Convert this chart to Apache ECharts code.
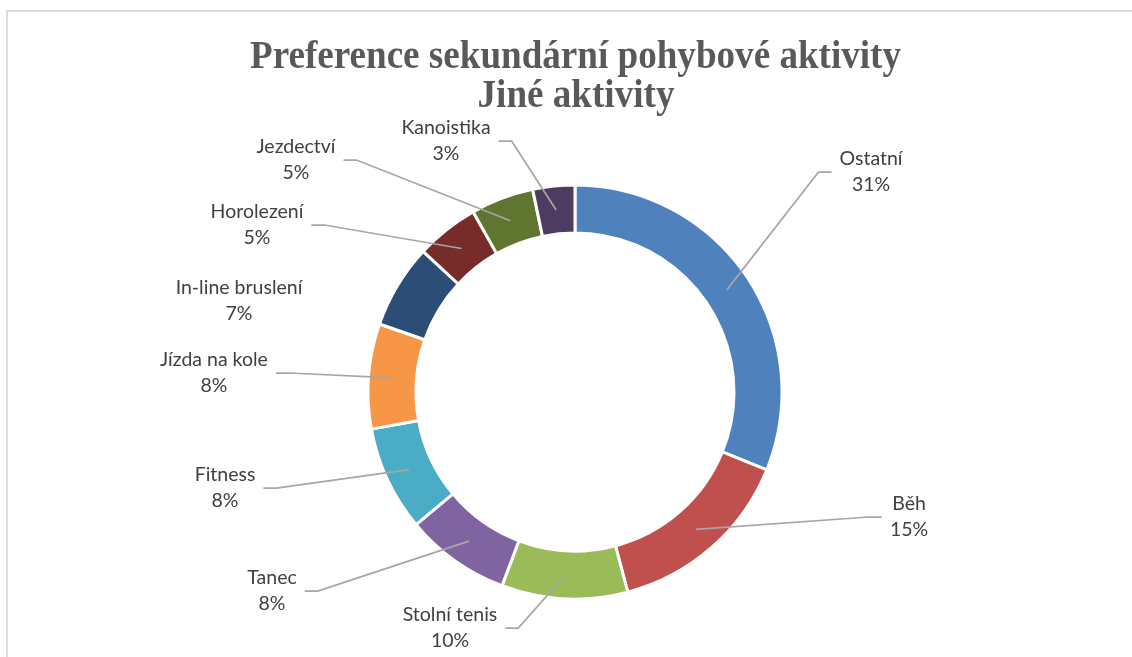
<!DOCTYPE html>
<html><head><meta charset="utf-8">
<script src="https://cdn.jsdelivr.net/npm/echarts@6/dist/echarts.min.js"></script>
<style>
html,body{margin:0;padding:0;background:#fff;}
#c{width:1132px;height:657px;}
#frame{position:absolute;left:6px;top:10px;right:0;bottom:0;border-left:2px solid #dcdcdc;border-top:2px solid #dcdcdc;pointer-events:none;}
</style>
</head><body>
<div id="c"></div><div id="frame"></div>
<script>
const titleLines = ['Preference sekundární pohybové aktivity', 'Jiné aktivity'];
const categories = ['Ostatní', 'Běh', 'Stolní tenis', 'Tanec', 'Fitness', 'Jízda na kole', 'In-line bruslení', 'Horolezení', 'Jezdectví', 'Kanoistika'];
const counts = [19, 9, 6, 5, 5, 5, 4, 3, 3, 2];
const colors = ['#4F81BD', '#C0504D', '#9BBB59', '#8064A2', '#4BACC6', '#F79646', '#2C4D75', '#772C2A', '#5F7530', '#4D3B62'];
// label block centres (px)
const labelCenters = [[871,172],[909,517],[450,628],[272,591],[225,488],[214,373],[239,301],[257,225],[296,160],[446,141]];
const noLeader = ['In-line bruslení'];

const cx = 575, cy = 392, r0 = 159, r1 = 207, rMid = (r0 + r1) / 2;
const total = counts.reduce((a, b) => a + b, 0);
const midAngles = [];
let acc = 0;
counts.forEach(v => { midAngles.push((acc + v / 2) / total * Math.PI * 2); acc += v; });

const titleFont = 'bold 41px "Liberation Serif"';
const common = {
  type: 'pie', center: [cx, cy], radius: [r0, r1], startAngle: 90, clockwise: true,
  percentPrecision: 0, avoidLabelOverlap: false, emphasis: {disabled: true}
};
const chart = echarts.init(document.getElementById('c'), null, {renderer: 'canvas'});
chart.setOption({
  animation: false,
  backgroundColor: '#fff',
  graphic: [
    {type: 'text', x: 575.5, y: 57, scaleX: 0.905, style: {text: titleLines[0], font: titleFont, fill: '#595959', align: 'center', verticalAlign: 'middle'}},
    {type: 'text', x: 576, y: 96, scaleX: 0.905, style: {text: titleLines[1], font: titleFont, fill: '#595959', align: 'center', verticalAlign: 'middle'}}
  ],
  series: [
    Object.assign({}, common, {
      z: 2,
      itemStyle: {borderColor: '#fff', borderWidth: 3},
      label: {show: false}, labelLine: {show: false},
      data: categories.map((n, i) => ({name: n, value: counts[i], itemStyle: {color: colors[i]}}))
    }),
    Object.assign({}, common, {
      z: 5,
      silent: true,
      itemStyle: {color: 'rgba(0,0,0,0)', borderWidth: 0},
      label: {
        show: true, position: 'outside',
        formatter: '{b}\n{d}%',
        fontFamily: 'Lato', fontSize: 19.5, color: '#404040',
        lineHeight: 26, align: 'center'
      },
      labelLine: {show: true, length: 10, length2: 10, lineStyle: {color: '#a6a6a6', width: 1.75}},
      labelLayout: function (p) {
        const i = p.dataIndex;
        const lx = labelCenters[i][0], ly = labelCenters[i][1];
        const w = p.labelRect.width;
        const a = midAngles[i];
        const px = cx + rMid * Math.sin(a), py = cy - rMid * Math.cos(a);
        const dir = px > lx ? 1 : -1;
        const sx = lx + dir * (w / 2 + 8), ex = sx + dir * 13;
        return {x: lx, y: ly, align: 'center', verticalAlign: 'middle',
          labelLinePoints: [[px, py], [ex, ly], [sx, ly]]};
      },
      data: categories.map((n, i) => ({
        name: n, value: counts[i],
        labelLine: noLeader.indexOf(n) >= 0 ? {show: false} : undefined
      }))
    })
  ]
});
</script>
</body></html>
